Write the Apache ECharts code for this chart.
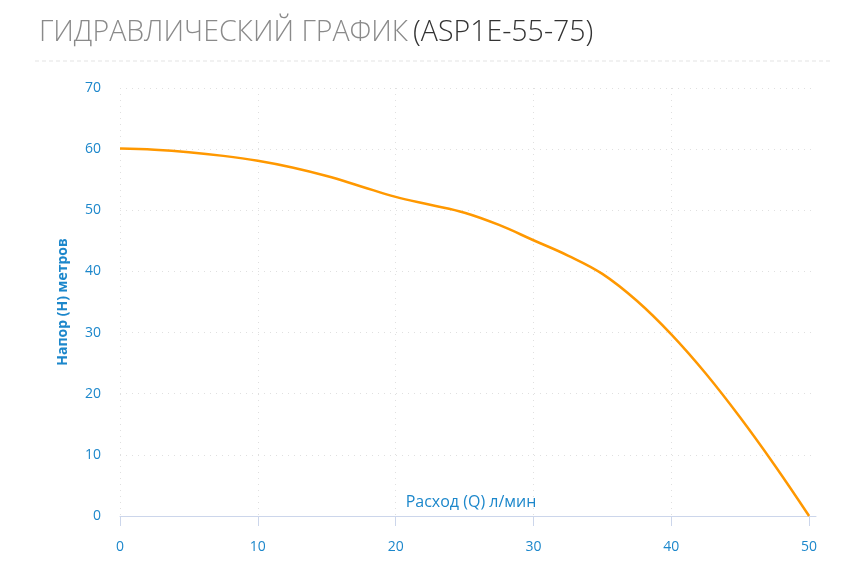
<!DOCTYPE html>
<html>
<head>
<meta charset="utf-8">
<script src="https://cdn.jsdelivr.net/npm/echarts@6/dist/echarts.min.js"></script>
<style>html,body{margin:0;padding:0;background:#fff}#c{width:852px;height:578px}</style>
</head>
<body>
<div id="c"></div>
<script>
var flow = [0, 2.5, 5, 7.5, 10, 12.5, 15, 17.5, 20, 22.5, 25, 27.5, 30, 32.5, 35, 37.5, 40, 42.5, 45, 47.5, 50];
var head = [60.1, 59.9, 59.5, 58.9, 58.1, 57.0, 55.6, 53.9, 52.2, 50.9, 49.6, 47.6, 45.1, 42.6, 39.6, 35.2, 29.7, 23.3, 16.1, 8.3, 0];
var xTicks = [0, 10, 20, 30, 40, 50];
var titleMain = 'ГИДРАВЛИЧЕСКИЙ ГРАФИК';
var titleModel = '(ASP1E-55-75)';
var xName = 'Расход (Q) л/мин';
var yName = 'Напор (H) метров';

var points = flow.map(function (q, i) { return [q, head[i]]; });
var blue = '#1c87cb';
var chart = echarts.init(document.getElementById('c'));
chart.setOption({
  animation: false,
  title: {
    text: '{a|' + titleMain + '} {b|' + titleModel + '}',
    left: 34, top: 13,
    textStyle: {
      rich: {
        a: { fontFamily: 'Open Sans', fontWeight: 300, fontSize: 28.5, color: '#8a8a8a' },
        b: { fontFamily: 'Open Sans', fontWeight: 300, fontSize: 28.5, color: '#333' }
      }
    }
  },
  graphic: [{
    type: 'line', shape: { x1: 35, y1: 61, x2: 830, y2: 61 },
    style: { stroke: '#e3e3e3', lineWidth: 1, lineDash: [4, 3] }
  }],
  grid: { left: 120, right: 36, top: 88, bottom: 62 },
  xAxis: {
    type: 'value', min: 0, max: 50.5,
    name: xName, nameLocation: 'middle', nameGap: -22, nameMoveOverlap: false,
    nameTextStyle: { color: blue, fontSize: 16, fontFamily: 'Open Sans', padding: [0, 0, 0, 6] },
    axisLine: { show: true, lineStyle: { color: '#ccd6eb', width: 1 } },
    axisTick: { show: true, length: 10, customValues: xTicks, lineStyle: { color: '#ccd6eb' } },
    axisLabel: { customValues: xTicks, color: blue, fontSize: 14, fontFamily: 'Open Sans', margin: 24 },
    splitLine: { show: true, showMaxLine: false, lineStyle: { color: '#e0e0e0', type: [1, 5] } }
  },
  yAxis: {
    type: 'value', min: 0, max: 70, interval: 10,
    name: yName, nameLocation: 'middle', nameGap: 50,
    nameTextStyle: { color: blue, fontSize: 14, fontWeight: 'bold', fontFamily: 'Open Sans' },
    axisLine: { show: false }, axisTick: { show: false },
    axisLabel: { color: blue, fontSize: 14, fontFamily: 'Open Sans', margin: 19 },
    splitLine: { show: true, lineStyle: { color: '#e0e0e0', type: [1, 5] } }
  },
  series: [{
    type: 'line', data: points, smooth: 0.4, symbol: 'none',
    lineStyle: { color: '#ff9800', width: 2.5 }
  }]
});
</script>
</body>
</html>
